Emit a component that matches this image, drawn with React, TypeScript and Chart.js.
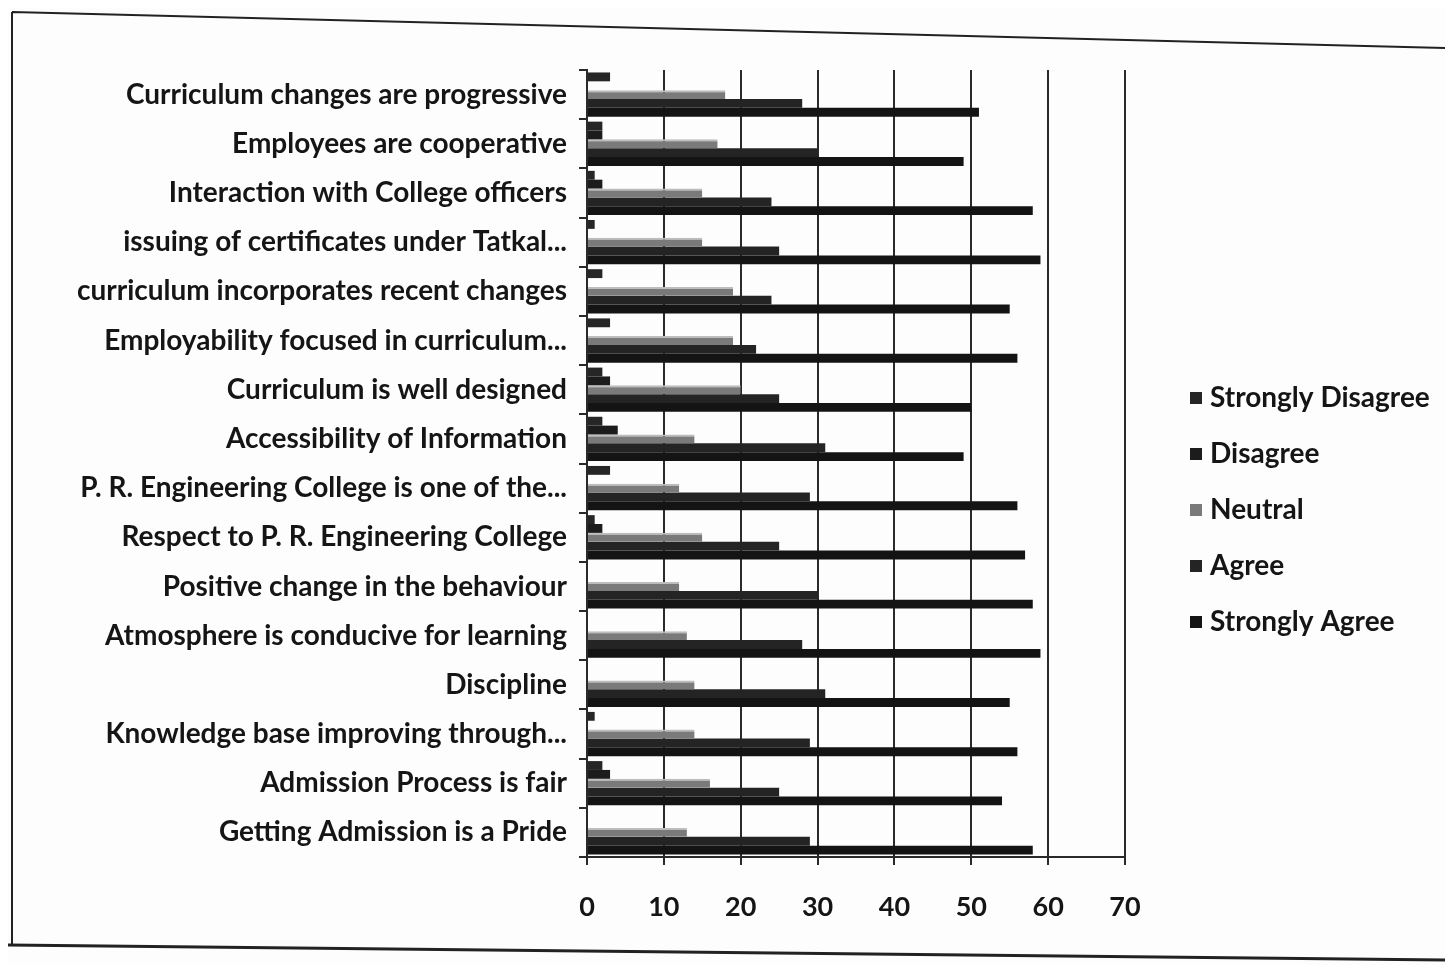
import { useEffect, useRef } from "react";
import { Chart, registerables } from "chart.js";

Chart.register(...registerables);

const categories = [
  "Curriculum changes are progressive",
  "Employees are cooperative",
  "Interaction with College officers",
  "issuing of certificates under Tatkal...",
  "curriculum incorporates recent changes",
  "Employability focused in curriculum...",
  "Curriculum is well designed",
  "Accessibility of Information",
  "P. R. Engineering College is one of the...",
  "Respect to P. R. Engineering College",
  "Positive change in the behaviour",
  "Atmosphere is conducive for learning",
  "Discipline",
  "Knowledge base improving through...",
  "Admission Process is fair",
  "Getting Admission is a Pride",
];

const stronglyDisagree = [3, 2, 1, 1, 2, 3, 2, 2, 3, 1, 0, 0, 0, 1, 2, 0];
const disagree = [0, 2, 2, 0, 0, 0, 3, 4, 0, 2, 0, 0, 0, 0, 3, 0];
const neutral = [18, 17, 15, 15, 19, 19, 20, 14, 12, 15, 12, 13, 14, 14, 16, 13];
const agree = [28, 30, 24, 25, 24, 22, 25, 31, 29, 25, 30, 28, 31, 29, 25, 29];
const stronglyAgree = [51, 49, 58, 59, 55, 56, 50, 49, 56, 57, 58, 59, 55, 56, 54, 58];

const seriesNames = ["Strongly Disagree", "Disagree", "Neutral", "Agree", "Strongly Agree"];
const seriesColors = ["#262626", "#1c1c1c", "#7a7a7a", "#242424", "#141414"];
const xMin = 0;
const xMax = 70;
const xStep = 10;

export default function App() {
  const ref = useRef<HTMLCanvasElement>(null);

  useEffect(() => {
    if (!ref.current) return;
    const family = "Lato, 'Noto Sans', sans-serif";
    const textColor = "#151515";

    const framePlugin = {
      id: "frame",
      beforeDraw(chart: any) {
        const ctx = chart.ctx;
        ctx.save();
        ctx.fillStyle = "#fdfdfd";
        ctx.fillRect(0, 0, chart.width, chart.height);
        ctx.strokeStyle = "#222";
        ctx.lineWidth = 2;
        ctx.beginPath();
        ctx.moveTo(4, 4);
        ctx.lineTo(chart.width, 40);
        ctx.moveTo(4, 4);
        ctx.lineTo(4, 937);
        ctx.stroke();
        ctx.lineWidth = 3;
        ctx.beginPath();
        ctx.moveTo(0, 937);
        ctx.lineTo(chart.width, 952);
        ctx.stroke();
        ctx.restore();
      },
    };

    const legendPlugin = {
      id: "sideLegend",
      afterDraw(chart: any) {
        const ctx = chart.ctx;
        const area = chart.chartArea;
        ctx.save();
        ctx.font = `bold 28px ${family}`;
        ctx.textBaseline = "middle";
        ctx.textAlign = "left";
        chart.data.datasets.forEach((ds: any, i: number) => {
          const y = 390 + i * 56;
          const x = area.right + 65;
          ctx.fillStyle = ds.backgroundColor;
          ctx.fillRect(x, y - 6, 12, 12);
          ctx.fillStyle = textColor;
          ctx.fillText(ds.label, x + 20, y);
        });
        ctx.restore();
      },
    };

    const values = [stronglyDisagree, disagree, neutral, agree, stronglyAgree];

    const chart = new Chart(ref.current, {
      type: "bar",
      data: {
        labels: categories,
        datasets: seriesNames.map((name, i) => ({
          label: name,
          data: values[i],
          backgroundColor: seriesColors[i],
          borderColor: i === 2 ? "#bdbdbd" : seriesColors[i],
          borderWidth: i === 2 ? { top: 2, right: 0, bottom: 0, left: 0 } : 0,
          barPercentage: 1,
          categoryPercentage: 0.9,
        })),
      },
      options: {
        indexAxis: "y",
        responsive: false,
        animation: false,
        layout: { padding: { top: 62, right: 320, bottom: 28, left: 0 } },
        plugins: {
          legend: { display: false },
          tooltip: { enabled: false },
        },
        scales: {
          x: {
            min: xMin,
            max: xMax,
            afterFit: (scale: any) => {
              scale.height = 80;
              scale.paddingLeft = 0;
              scale.paddingRight = 0;
            },
            ticks: {
              stepSize: xStep,
              color: textColor,
              padding: 26,
              font: { family, size: 27, weight: "bold" },
            },
            grid: { color: "#2a2a2a", lineWidth: 2, tickLength: 8 },
            border: { color: "#2a2a2a", width: 2 },
          },
          y: {
            afterFit: (scale: any) => {
              scale.width = 579;
              scale.paddingTop = 0;
              scale.paddingBottom = 0;
            },
            ticks: {
              color: textColor,
              padding: 12,
              autoSkip: false,
              font: { family, size: 28, weight: "bold" },
            },
            grid: {
              drawOnChartArea: false,
              tickLength: 8,
              color: "#2a2a2a",
              lineWidth: 2,
              offset: true,
            },
            border: { color: "#2a2a2a", width: 2 },
          },
        },
      },
      plugins: [framePlugin, legendPlugin],
    });
    return () => chart.destroy();
  }, []);

  return <canvas ref={ref} width={1437} height={957} style={{ display: "block" }} />;
}
